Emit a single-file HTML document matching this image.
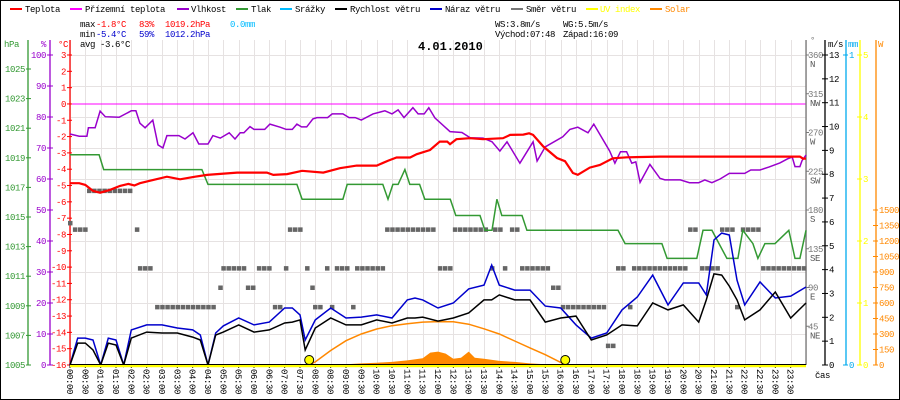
<!DOCTYPE html>
<html><head><meta charset="utf-8">
<style>
html,body{margin:0;padding:0;background:#fff;}
#wrap{position:relative;width:900px;height:400px;overflow:hidden;background:#fff;}
svg text{font-family:"Liberation Mono",monospace;font-size:9px;letter-spacing:-0.4px;}
</style></head>
<body>
<div id="wrap">
<svg id="chart" width="900" height="400" viewBox="0 0 900 400" xmlns="http://www.w3.org/2000/svg">
<rect x="0.5" y="0.5" width="899" height="399" fill="#fff" stroke="#000"/>
<g id="grid"></g>
<g id="axes"></g>
<g id="series"></g>
<g id="legend">
  <line x1="10" y1="9" x2="22" y2="9" stroke="#ff0000" stroke-width="2"/>
  <text x="25" y="12" fill="#000">Teplota</text>
  <line x1="70" y1="9" x2="82" y2="9" stroke="#ff00ff" stroke-width="2"/>
  <text x="85" y="12" fill="#000">Přízemní teplota</text>
  <line x1="177" y1="9" x2="189" y2="9" stroke="#9900cc" stroke-width="2"/>
  <text x="191" y="12" fill="#000">Vlhkost</text>
  <line x1="236" y1="9" x2="248" y2="9" stroke="#339933" stroke-width="2"/>
  <text x="251" y="12" fill="#000">Tlak</text>
  <line x1="280" y1="9" x2="292" y2="9" stroke="#00bbff" stroke-width="2"/>
  <text x="295" y="12" fill="#000">Srážky</text>
  <line x1="335" y1="9" x2="347" y2="9" stroke="#000" stroke-width="2"/>
  <text x="350" y="12" fill="#000">Rychlost větru</text>
  <line x1="430" y1="9" x2="442" y2="9" stroke="#0000cc" stroke-width="2"/>
  <text x="445" y="12" fill="#000">Náraz větru</text>
  <line x1="511" y1="9" x2="523" y2="9" stroke="#777" stroke-width="2"/>
  <text x="526" y="12" fill="#000">Směr větru</text>
  <line x1="586" y1="9" x2="598" y2="9" stroke="#ffff00" stroke-width="2"/>
  <text x="600" y="12" fill="#ffff00">UV index</text>
  <line x1="650" y1="9" x2="662" y2="9" stroke="#ff8800" stroke-width="2"/>
  <text x="665" y="12" fill="#ff8800">Solar</text>
</g>
<g id="stats">
  <text x="80" y="27" fill="#000">max</text>
  <text x="96" y="27" fill="#ff0000">-1.8°C</text>
  <text x="139" y="27" fill="#ff0000">83%</text>
  <text x="165" y="27" fill="#ff0000">1019.2hPa</text>
  <text x="230" y="27" fill="#00bbff">0.0mm</text>
  <text x="80" y="37" fill="#000">min</text>
  <text x="96" y="37" fill="#0000cc">-5.4°C</text>
  <text x="139" y="37" fill="#0000cc">59%</text>
  <text x="165" y="37" fill="#0000cc">1012.2hPa</text>
  <text x="80" y="47" fill="#000">avg -3.6°C</text>
  <text x="495" y="27" fill="#000">WS:3.8m/s</text>
  <text x="563" y="27" fill="#000">WG:5.5m/s</text>
  <text x="495" y="37" fill="#000">Východ:07:48</text>
  <text x="563" y="37" fill="#000">Západ:16:09</text>
  <text x="418" y="50" fill="#000" style="font-size:12px;font-weight:bold;letter-spacing:0">4.01.2010</text>
</g>
</svg>
</div>
<script>
// ---- data ----
const tempTimes = [0,0.3,0.5,0.75,0.98,1.3,1.63,1.9,2.1,2.28,2.7,3.16,3.59,4.08,4.47,5.45,6.42,6.63,7.08,7.57,8.26,8.8,9.35,10.0,10.38,10.65,11.09,11.31,11.74,12.06,12.3,12.39,12.6,13.04,13.47,14.12,14.35,14.78,14.97,15.1,15.43,15.88,16.14,16.4,16.56,16.95,17.28,17.7,18.16,19.24,23.8,23.9,24];
const tempValues = [-4.86,-4.86,-4.96,-5.33,-5.44,-5.27,-5.02,-4.9,-5.0,-4.86,-4.67,-4.46,-4.62,-4.46,-4.35,-4.21,-4.21,-4.35,-4.3,-4.1,-4.21,-3.94,-3.78,-3.78,-3.47,-3.28,-3.28,-3.08,-2.82,-2.31,-2.31,-2.47,-2.16,-2.1,-2.16,-2.1,-1.9,-1.88,-1.8,-1.9,-2.6,-3.31,-3.51,-4.23,-4.34,-3.9,-3.74,-3.33,-3.27,-3.23,-3.23,-3.35,-3.35];

const humTimes = [0,0.3,0.55,0.6,0.82,0.98,1.15,1.6,2.0,2.15,2.28,2.45,2.7,2.87,3.03,3.16,3.55,3.75,4.01,4.2,4.5,4.66,4.9,5.19,5.38,5.55,5.67,5.87,6.0,6.35,6.52,6.85,7.05,7.25,7.4,7.55,7.72,7.92,8.05,8.4,8.55,8.9,9.1,9.3,9.5,9.88,10.27,10.5,10.7,10.89,11.18,11.35,11.55,11.7,11.9,12.39,12.78,13.05,13.47,13.76,14.02,14.25,14.67,15.1,15.23,15.5,16.07,16.3,16.56,16.89,17.08,17.6,17.77,17.95,18.15,18.32,18.45,18.59,18.91,19.24,19.4,19.9,20.2,20.5,20.7,20.93,21.2,21.5,22.0,22.2,22.5,22.8,23.15,23.4,23.55,23.64,23.8,23.87,24];
const humValues = [74.5,73.8,73.8,76.5,76.5,81.9,80.1,79.9,82.0,82.0,78.0,76.5,79.0,71.0,70.0,74.0,74.0,72.9,74.9,71.3,71.3,74.0,73.2,74.9,72.9,74.9,74.9,76.9,76.0,76.0,77.7,76.7,76.0,76.0,77.7,76.8,76.8,79.4,79.8,79.8,81.0,81.0,79.8,79.8,79.0,81.0,82.0,81.0,82.3,79.8,83.0,81.0,81.0,83.0,79.7,75.3,75.0,73.3,73.2,72.0,69.0,72.0,65.1,72.0,65.8,70.4,73.6,76.0,76.7,74.9,77.7,69.0,65.1,68.8,68.8,65.1,65.5,58.9,64.7,60.2,59.7,59.7,58.8,58.8,59.7,58.8,60.0,61.8,61.8,62.9,62.9,63.9,65.2,66.5,67.1,64.0,64.0,65.9,67.7];

const presTimes = [0,0.95,1.1,4.3,4.5,7.4,7.57,8.9,9.04,10.2,10.37,10.53,10.7,10.92,11.08,11.4,11.57,12.4,12.58,13.37,13.53,13.76,13.92,14.08,14.74,14.9,17.87,18.1,19.3,19.47,20.44,20.64,20.93,21.42,21.78,21.94,22.27,22.43,22.66,22.99,23.44,23.64,23.8,24];
const presValues = [1019.2,1019.2,1018.2,1018.2,1017.2,1017.2,1016.2,1016.2,1017.2,1017.2,1016.2,1017.2,1017.2,1018.2,1017.2,1017.2,1016.2,1016.2,1015.1,1015.1,1014.1,1014.1,1016.2,1015.1,1015.1,1014.1,1014.1,1013.2,1013.2,1012.2,1012.2,1014.1,1014.1,1012.2,1012.2,1014.1,1013.2,1012.2,1013.2,1013.2,1014.1,1012.2,1012.2,1014.1];

const windTimes = [0,0.25,0.5,0.75,1,1.25,1.5,1.75,2,2.5,3,3.5,4,4.25,4.5,4.75,5,5.5,6,6.5,7,7.25,7.5,7.67,8,8.5,9,9.5,10,10.5,11,11.25,11.5,12,12.5,13,13.5,13.75,14,14.5,15,15.5,16,16.5,17,17.5,18,18.5,19,19.5,20,20.5,20.75,21,21.25,21.5,21.75,22,22.5,23,23.5,24];
const windSpeed = [0,0.92,0.92,0.63,0,0.92,0.84,0,1.13,1.38,1.34,1.34,1.17,1.05,0,1.26,1.38,1.68,1.38,1.47,1.76,1.8,1.89,0.63,1.55,1.97,1.68,1.68,1.89,1.76,1.97,1.97,2.01,1.84,1.97,2.18,2.73,2.73,2.94,2.73,2.73,1.8,1.97,2.05,1.05,1.26,1.68,1.64,2.6,2.31,2.52,1.8,2.73,3.82,3.77,3.31,2.73,1.89,2.31,3.06,1.97,2.6];
const windGust = [0,1.13,1.13,1.05,0,1.13,1.05,0,1.47,1.68,1.68,1.55,1.47,1.26,0,1.34,1.64,1.97,1.68,1.8,2.39,2.39,2.1,1.05,1.89,2.39,1.97,2.01,2.1,1.97,2.73,2.81,2.73,2.39,2.6,3.19,3.35,4.19,3.35,3.14,3.14,2.47,2.39,1.68,1.13,1.34,2.31,2.85,3.77,2.52,3.44,3.44,2.94,5.24,5.53,5.45,3.56,2.52,3.48,2.81,2.89,3.27];

const dirStart = [0,0.16,0.62,2.18,2.28,2.84,4.9,5.0,5.8,6.16,6.68,7.04,7.17,7.73,7.9,7.99,8.38,8.54,8.7,9.23,9.36,10.34,12.06,12.55,13.76,13.86,14.18,14.41,14.74,15.75,16.07,17.54,17.87,18.26,18.39,20.22,20.61,21.26,21.75,21.94,22.6];
const dirEnd   = [0,0.55,2.05,2.18,2.77,4.73,4.9,5.77,6.1,6.62,6.91,7.04,7.6,7.73,7.9,8.25,8.38,8.54,9.13,9.23,10.27,11.97,12.45,13.7,13.76,14.12,14.28,14.61,15.65,15.98,17.51,17.84,18.16,18.26,20.15,20.48,21.13,21.68,21.75,22.5,24];
const dirDeg   = [165,157.5,202.5,157.5,112.5,67.5,90,112.5,90,112.5,67.5,112.5,157.5,112.5,90,67.5,112.5,67.5,112.5,67.5,112.5,157.5,112.5,157.5,112.5,157.5,112.5,157.5,112.5,90,67.5,22.5,112.5,67.5,112.5,157.5,112.5,157.5,67.5,157.5,112.5];

const solarMaxTimes = [7.8,8,8.5,9,9.5,10,10.5,11,11.5,12,12.5,13,13.5,14,14.5,15,15.5,16,16.15];
const solarMaxValues = [0,30,140,235,300,348,380,400,415,420,418,395,350,300,232,165,100,25,0];
const solarTimes = [7.8,8,8.5,9,9.5,10,10.5,11,11.5,11.75,12,12.25,12.5,12.75,13,13.2,13.5,14,14.5,15,15.5,16];
const solarValues = [0,3,5,8,15,22,30,45,65,120,130,110,60,70,130,70,60,40,30,15,8,0];

const sunTimes = [7.8,16.15];

const hPaTicks = [1005,1007,1009,1011,1013,1015,1017,1019,1021,1023,1025];
const humTicks = [0,10,20,30,40,50,60,70,80,90,100];
const tempTicks = [3,2,1,0,-1,-2,-3,-4,-5,-6,-7,-8,-9,-10,-11,-12,-13,-14,-15,-16];
const dirTicks = [360,315,270,225,180,135,90,45];
const dirNames = ['N','NW','W','SW','S','SE','E','NE'];
const msTicks = [0,1,2,3,4,5,6,7,8,9,10,11,12,13];
const uvTicks = [0,1,2,3,4,5];
const wTicks = [0,150,300,450,600,750,900,1050,1200,1350,1500];

// ---- scales ----
const X = h => 70 + h * 736 / 24;
const yT = t => 55 + (3 - t) * 310 / 19;
const yH = p => 365 - p * 3.1;
const yP = v => 365 - (v - 1005) * 14.8;
const yW = v => 365 - v * 310 / 13;
const yD = d => 365 - d * 310 / 360;
const yU = u => 365 - u * 62;
const yS = w => 365 - w * 155 / 1500;

const NS = 'http://www.w3.org/2000/svg';
function mk(tag, attrs, parent) {
  const e = document.createElementNS(NS, tag);
  for (const k in attrs) e.setAttribute(k, attrs[k]);
  parent.appendChild(e);
  return e;
}
const grid = document.getElementById('grid');
const axes = document.getElementById('axes');
const series = document.getElementById('series');

// grid
for (let k = 0; k <= 48; k++) {
  const x = Math.round(X(k * 0.5)) + 0.5;
  const l = mk('line', {x1: x, y1: 40, x2: x, y2: 365, stroke: '#e6e2e2', 'stroke-width': 1}, grid);
  
  
}
humTicks.forEach(p => {
  const y = Math.round(yH(p)) + 0.5;
  const l = mk('line', {x1: 70, y1: y, x2: 806, y2: y, stroke: '#e6e2e2', 'stroke-width': 1}, grid);
  
  
});
// 0°C line (ground temperature)
{
  const l = mk('line', {x1: 70, y1: yT(0), x2: 806, y2: yT(0), stroke: '#ff00ff', 'stroke-width': 1}, grid);
  
  
}

function vAxis(x, color, name) {
  const l = mk('line', {x1: x, y1: 40, x2: x, y2: 365, stroke: color, 'stroke-width': 1.3}, axes);
  
  
}
function label(x, y, txt, color, anchor, name) {
  const t = mk('text', {x: x, y: y, fill: color, 'text-anchor': anchor || 'start'}, axes);
  t.textContent = txt;
  
  
  return t;
}
// left axes
vAxis(28, '#339933', 'pressure-axis');
vAxis(50, '#9900cc', 'humidity-axis');
vAxis(70, '#ff0000', 'temperature-axis');
label(4, 47, 'hPa', '#339933', 'start', 'pressure-axis-title');
label(46, 47, '%', '#9900cc', 'end', 'humidity-axis-title');
label(68, 47, '°C', '#ff0000', 'end', 'temperature-axis-title');
hPaTicks.forEach(v => {
  const y = yP(v);
  mk('line', {x1: 26, y1: y, x2: 31, y2: y, stroke: '#339933'}, axes);
  label(25, y + 3, String(v), '#339933', 'end', 'pressure-tick-label');
});
humTicks.forEach(v => {
  const y = yH(v);
  mk('line', {x1: 47, y1: y, x2: 53, y2: y, stroke: '#9900cc'}, axes);
  label(46, y + 3, String(v), '#9900cc', 'end', 'humidity-tick-label');
});
tempTicks.forEach(v => {
  const y = yT(v);
  mk('line', {x1: 67, y1: y, x2: 72, y2: y, stroke: '#ff0000'}, axes);
  label(66, y + 3, String(v), '#ff0000', 'end', 'temperature-tick-label');
});
// right axes
vAxis(806, '#777777', 'direction-axis');
vAxis(825, '#000000', 'wind-speed-axis');
vAxis(846, '#00aaee', 'rain-axis');
vAxis(860, '#ffff00', 'uv-axis');
vAxis(876, '#ff8800', 'solar-axis');
label(810, 43, '°', '#777777', 'start', 'direction-axis-title');
label(828, 47, 'm/s', '#000', 'start', 'wind-axis-title');
label(848, 47, 'mm', '#00aaee', 'start', 'rain-axis-title');
label(878, 47, 'W', '#ff8800', 'start', 'solar-axis-title');
dirTicks.forEach((d, i) => {
  const y = yD(d);
  mk('line', {x1: 806, y1: y, x2: 809, y2: y, stroke: '#777'}, axes);
  label(808, y + 3, String(d), '#777777', 'start', 'direction-tick-label');
  label(810, y + 12, dirNames[i], '#555555', 'start', 'direction-name-label');
});
msTicks.forEach(v => {
  const y = yW(v);
  mk('line', {x1: 822, y1: y, x2: 828, y2: y, stroke: '#000'}, axes);
  label(829, y + 3, String(v), '#000', 'start', 'wind-tick-label');
});
[0, 1].forEach(v => {
  const y = 365 - v * 310;
  mk('line', {x1: 843, y1: y, x2: 848, y2: y, stroke: '#00aaee'}, axes);
  label(849, y + 3, String(v), '#00aaee', 'start', 'rain-tick-label');
});
uvTicks.forEach(v => {
  const y = yU(v);
  mk('line', {x1: 857, y1: y, x2: 862, y2: y, stroke: '#ffff00'}, axes);
  label(863, y + 3, String(v), '#ffff00', 'start', 'uv-tick-label');
});
wTicks.forEach(v => {
  const y = yS(v);
  mk('line', {x1: 873, y1: y, x2: 878, y2: y, stroke: '#ff8800'}, axes);
  label(879, y + 3, String(v), '#ff8800', 'start', 'solar-tick-label');
});
label(815, 378, 'čas', '#000', 'start', 'time-axis-title');
// x labels
for (let k = 0; k < 48; k++) {
  const h = Math.floor(k / 2), m = k % 2 ? '30' : '00';
  const txt = (h < 10 ? '0' : '') + h + ':' + m;
  const x = X(k * 0.5);
  const t = mk('text', {x: 0, y: 0, fill: '#000', transform: 'translate(' + (x - 3) + ',369) rotate(90)'}, axes);
  t.textContent = txt;
  
  
  mk('line', {x1: x, y1: 365, x2: x, y2: 368, stroke: '#000'}, axes);
}

function pathFrom(times, vals, ys) {
  return times.map((t, i) => (i ? 'L' : 'M') + X(t).toFixed(1) + ',' + ys(vals[i]).toFixed(1)).join('');
}

// solar area
{
  let d = 'M' + X(solarTimes[0]) + ',365' + solarTimes.map((t, i) => 'L' + X(t).toFixed(1) + ',' + yS(solarValues[i]).toFixed(1)).join('') + 'L' + X(solarTimes[solarTimes.length - 1]) + ',365Z';
  const p = mk('path', {d: d, fill: '#ff8800', stroke: 'none'}, series);
  
  
}
{
  const p = mk('path', {d: pathFrom(solarMaxTimes, solarMaxValues, yS), fill: 'none', stroke: '#ff8800', 'stroke-width': 1.5}, series);
  
  
}
// wind direction
dirDeg.forEach((deg, i) => {
  for (let t = dirStart[i]; t <= dirEnd[i] + 0.001; t += 1 / 6) {
    const r = mk('rect', {x: X(t) - 2, y: yD(deg) - 2, width: 4.5, height: 4.5, fill: '#666666'}, series);
    
    
  }
});
// pressure
{
  const p = mk('path', {d: pathFrom(presTimes, presValues, yP), fill: 'none', stroke: '#339933', 'stroke-width': 1.5}, series);
  
  
}
// gust
{
  const p = mk('path', {d: pathFrom(windTimes, windGust, yW), fill: 'none', stroke: '#0000cc', 'stroke-width': 1.5}, series);
  
  
}
// wind speed
{
  const p = mk('path', {d: pathFrom(windTimes, windSpeed, yW), fill: 'none', stroke: '#000000', 'stroke-width': 1.5}, series);
  
  
}
// humidity
{
  const p = mk('path', {d: pathFrom(humTimes, humValues, yH), fill: 'none', stroke: '#9900cc', 'stroke-width': 1.5}, series);
  
  
}
// temperature
{
  const p = mk('path', {d: pathFrom(tempTimes, tempValues, yT), fill: 'none', stroke: '#ff0000', 'stroke-width': 2.2}, series);
  
  
}
// baseline UV (zero) + axis
{
  const l = mk('line', {x1: 70, y1: 366, x2: 806, y2: 366, stroke: '#ffff00', 'stroke-width': 2.5}, series);
  
  
  const b = mk('line', {x1: 70, y1: 364.5, x2: 806, y2: 364.5, stroke: '#000', 'stroke-width': 1}, series);
  
  
}
// sunrise/sunset markers
sunTimes.forEach(t => {
  const c = mk('circle', {cx: X(t), cy: 360, r: 4.5, fill: '#ffff00', stroke: '#000', 'stroke-width': 1}, series);
  
  
});
</script>
</body></html>
